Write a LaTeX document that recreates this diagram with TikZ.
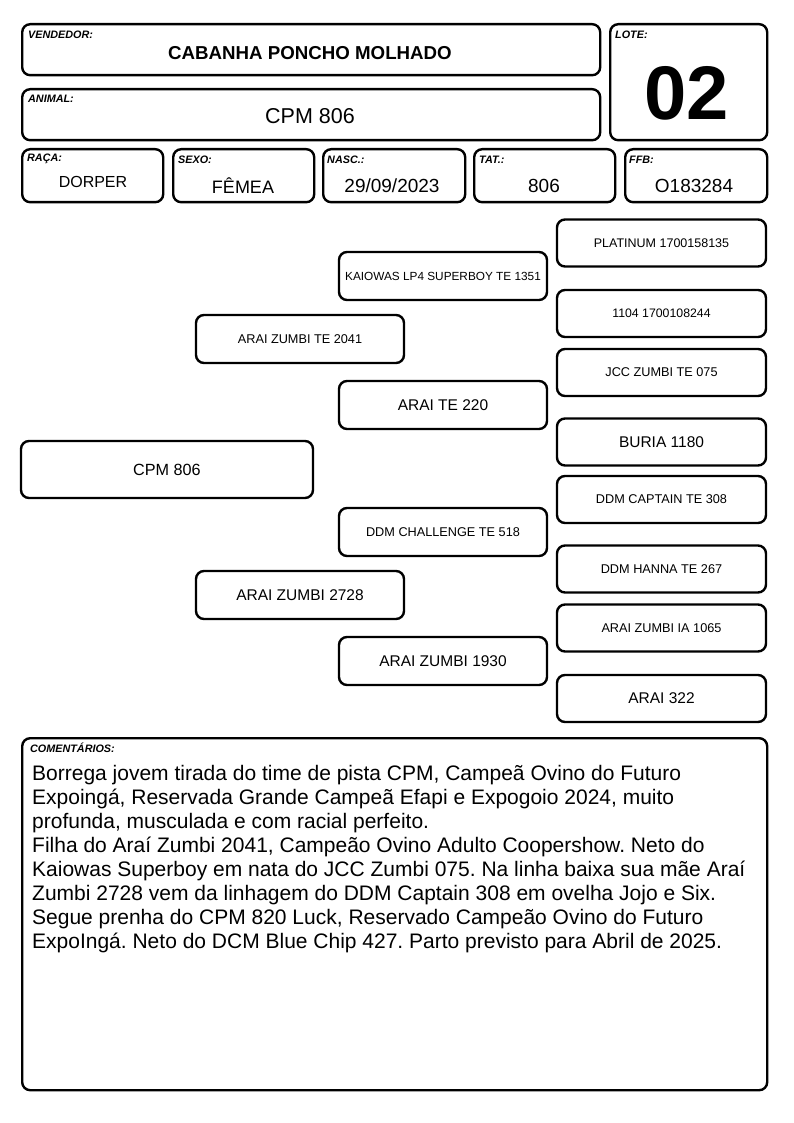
\documentclass[tikz,border=0pt]{standalone}
\usepackage{fontspec}
\setmainfont{Liberation Sans}
\begin{document}
\frenchspacing
\begin{tikzpicture}[x=1pt,y=-1pt,
  box/.style={draw=black, line width=2.4pt, rounded corners=8pt, anchor=north west, inner sep=0pt},
  lbl/.style={anchor=west, inner sep=0pt, font=\fontsize{10.8}{12}\selectfont\bfseries\itshape},
  val/.style={inner sep=0pt, font=\fontsize{19}{21}\selectfont}]
\useasboundingbox (0,0) rectangle (794,1123);
\fill[white] (0,0) rectangle (794,1123);
% header
\node[box, minimum width=578pt, minimum height=51pt] (vend) at (21,23) {};
\node[lbl] (vendl) at (28,35) {VENDEDOR:};
\node[val, font=\fontsize{18.7}{20}\selectfont\bfseries] (vendv) at (310,53) {CABANHA PONCHO MOLHADO};
\node[box, minimum width=157pt, minimum height=116pt] (lote) at (609,23) {};
\node[lbl] (lotel) at (615,35) {LOTE:};
\node[inner sep=0pt, font=\fontsize{76}{78}\selectfont\bfseries] (lotev) at (687,93) {02};
\node[box, minimum width=578pt, minimum height=51pt] (anim) at (21,88) {};
\node[lbl] (animl) at (28,99) {ANIMAL:};
\node[val, font=\fontsize{21.5}{23}\selectfont] (animv) at (310,116) {CPM 806};
% row
\node[box, minimum width=141pt, minimum height=53pt] (raca) at (21,148) {};
\node[lbl] (racal) at (27,159) {RAÇA:};
\node[val, font=\fontsize{16}{18}\selectfont] (racav) at (93,182) {DORPER};
\node[box, minimum width=141pt, minimum height=53pt] (sexo) at (172,148) {};
\node[lbl] (sexol) at (178,160) {SEXO:};
\node[val, font=\fontsize{18}{20}\selectfont] (sexov) at (243,186) {FÊMEA};
\node[box, minimum width=142pt, minimum height=53pt] (nasc) at (322,148) {};
\node[lbl] (nascl) at (327,160) {NASC.:};
\node[val] (nascv) at (392,186) {29/09/2023};
\node[box, minimum width=141pt, minimum height=53pt] (tat) at (473,148) {};
\node[lbl] (tatl) at (479,160) {TAT.:};
\node[val] (tatv) at (544,186) {806};
\node[box, minimum width=142pt, minimum height=53pt] (ffb) at (624,148) {};
\node[lbl] (ffbl) at (629,160) {FFB:};
\node[val] (ffbv) at (694,186) {O183284};
% pedigree
\tikzset{ped/.style={draw=black, line width=2.4pt, rounded corners=8pt, minimum width=208pt, minimum height=48pt, inner sep=0pt, align=center},
  small/.style={font=\fontsize{12.7}{14}\selectfont},
  big/.style={font=\fontsize{15.5}{17}\selectfont}}
\node[ped, minimum width=292pt, minimum height=57pt, font=\fontsize{16.2}{18}\selectfont] (p0) at (167,469.5) {CPM 806};
\node[ped, small] (p1) at (300,339) {ARAI ZUMBI TE 2041};
\node[ped, big] (p2) at (300,595) {ARAI ZUMBI 2728};
\node[ped, font=\fontsize{11.8}{13}\selectfont] (p3) at (443,276) {KAIOWAS LP4 SUPERBOY TE 1351};
\node[ped, big] (p4) at (443,405) {ARAI TE 220};
\node[ped, small] (p5) at (443,532) {DDM CHALLENGE TE 518};
\node[ped, big] (p6) at (443,661) {ARAI ZUMBI 1930};
\tikzset{pedr/.style={ped, minimum width=209pt, minimum height=47pt}}
\node[pedr, font=\fontsize{12.5}{14}\selectfont] (p7) at (661.5,243) {PLATINUM 1700158135};
\node[pedr, font=\fontsize{12.3}{14}\selectfont] (p8) at (661.5,313.5) {1104 1700108244};
\node[pedr, small] (p9) at (661.5,372.5) {JCC ZUMBI TE 075};
\node[pedr, big] (p10) at (661.5,442) {BURIA 1180};
\node[pedr, small] (p11) at (661.5,499.5) {DDM CAPTAIN TE 308};
\node[pedr, small] (p12) at (661.5,569) {DDM HANNA TE 267};
\node[pedr, small] (p13) at (661.5,628) {ARAI ZUMBI IA 1065};
\node[pedr, big] (p14) at (661.5,698.5) {ARAI 322};
% comments
\node[box, minimum width=745pt, minimum height=352pt] (com) at (21,737) {};
\node[lbl] (coml) at (30,748) {COMENTÁRIOS:};
\node[anchor=north west, inner sep=0pt, align=left, font=\fontsize{21}{24}\selectfont] (comv) at (32,765) {Borrega jovem tirada do time de pista CPM, Campeã Ovino do Futuro\\
Expoingá, Reservada Grande Campeã Efapi e Expogoio 2024, muito\\
profunda, musculada e com racial perfeito.\\
Filha do Araí Zumbi 2041, Campeão Ovino Adulto Coopershow. Neto do\\
Kaiowas Superboy em nata do JCC Zumbi 075. Na linha baixa sua mãe Araí\\
Zumbi 2728 vem da linhagem do DDM Captain 308 em ovelha Jojo e Six.\\
Segue prenha do CPM 820 Luck, Reservado Campeão Ovino do Futuro\\
ExpoIngá. Neto do DCM Blue Chip 427. Parto previsto para Abril de 2025.};
\end{tikzpicture}
\end{document}
